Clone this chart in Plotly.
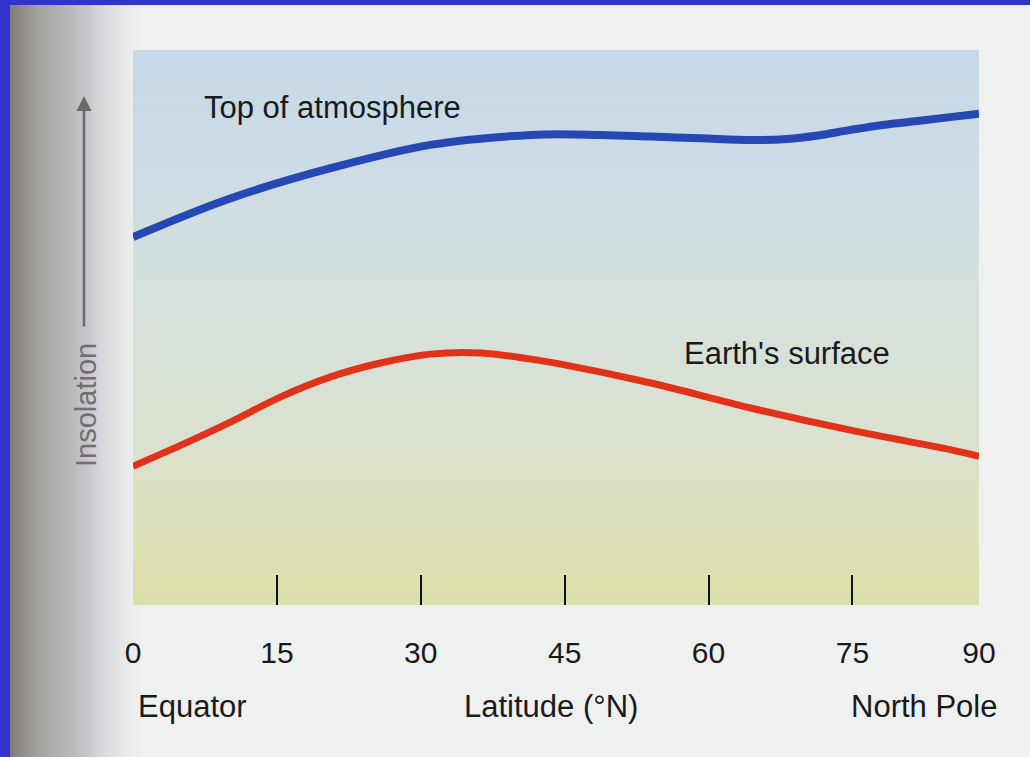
import plotly.graph_objects as go

# ---- data (latitude in degrees N, insolation in relative units 0-100) ----
lat_top = [0, 10.2, 20.6, 31.0, 41.5, 48.75, 54.0, 59.2, 64.4, 67.8, 71.4, 74.8, 78.2, 81.8, 85.2, 88.2]
ins_top = [66.3, 73.3, 78.7, 82.9, 84.7, 84.7, 84.4, 84.1, 83.8, 83.9, 84.6, 85.6, 86.5, 87.2, 87.9, 88.5]

lat_sfc = [0, 5.0, 10.2, 15.4, 20.6, 25.8, 31.0, 36.3, 41.5, 44.6, 54.0, 64.4, 74.8, 85.2, 88.2]
ins_sfc = [25.0, 28.8, 33.0, 37.5, 41.1, 43.6, 45.2, 45.4, 44.3, 43.4, 40.0, 35.5, 31.5, 28.0, 26.8]

tick_marks = [15, 30, 45, 60, 75]
tick_label_pos = [0, 15, 30, 45, 60, 75, 88.2]
tick_labels = ["0", "15", "30", "45", "60", "75", "90"]

series_names = ["Top of atmosphere", "Earth's surface"]
end_labels = ["Equator", "Latitude (°N)", "North Pole"]
y_title = "Insolation"

# ---- layout geometry ----
W, H = 1030, 757
L, R, T, B = 133, 979, 50, 605
XMAX = 88.2


def px(x):
    return (x - L) / (R - L)


def py(y):
    return (B - y) / (B - T)


def lerp_color(stops, t):
    for i in range(len(stops) - 1):
        t0, c0 = stops[i]
        t1, c1 = stops[i + 1]
        if t0 <= t <= t1:
            f = (t - t0) / (t1 - t0) if t1 > t0 else 0
            c = [round(c0[k] + (c1[k] - c0[k]) * f) for k in range(3)]
            return "rgb(%d,%d,%d)" % tuple(c)
    c = stops[-1][1]
    return "rgb(%d,%d,%d)" % tuple(c)


shapes = []

# page gradient shadow on the left (scan)
shadow_stops = [
    (10, (128, 123, 118)),
    (35, (162, 160, 156)),
    (70, (186, 184, 186)),
    (85, (198, 195, 203)),
    (100, (214, 214, 216)),
    (125, (232, 234, 234)),
    (140, (238, 240, 240)),
]
n_sh = 40
for i in range(n_sh):
    x0 = 10 + (140 - 10) * i / n_sh
    x1 = 10 + (140 - 10) * (i + 1) / n_sh
    shapes.append(dict(type="rect", xref="paper", yref="paper",
                       x0=px(x0), x1=px(x1 + 0.6), y0=py(H), y1=py(0),
                       fillcolor=lerp_color(shadow_stops, (x0 + x1) / 2),
                       line=dict(width=0), layer="below"))

# plot-area background gradient (blue at top -> yellow at bottom)
bg_stops = [
    (0.0, (221, 222, 172)),
    (0.12, (223, 225, 185)),
    (0.3, (218, 225, 208)),
    (0.55, (214, 225, 220)),
    (0.8, (204, 220, 230)),
    (1.0, (198, 216, 233)),
]
n_bg = 90
for i in range(n_bg):
    y0 = i / n_bg
    y1 = (i + 1) / n_bg
    shapes.append(dict(type="rect", xref="paper", yref="paper",
                       x0=0, x1=1, y0=y0, y1=min(1, y1 + 0.002),
                       fillcolor=lerp_color(bg_stops, (y0 + y1) / 2),
                       line=dict(width=0), layer="below"))

# blue frame of the scanned image (top and left)
shapes.append(dict(type="rect", xref="paper", yref="paper",
                   x0=px(0), x1=px(W), y0=py(5), y1=py(0),
                   fillcolor="#3232cc", line=dict(width=0), layer="above"))
shapes.append(dict(type="rect", xref="paper", yref="paper",
                   x0=px(0), x1=px(10), y0=py(H), y1=py(0),
                   fillcolor="#3232cc", line=dict(width=0), layer="above"))

fig = go.Figure()

fig.add_trace(go.Scatter(x=lat_top, y=ins_top, mode="lines", name=series_names[0],
                         line=dict(color="#2548b4", width=8, shape="spline", smoothing=1.0),
                         hoverinfo="skip", showlegend=False))
fig.add_trace(go.Scatter(x=lat_sfc, y=ins_sfc, mode="lines", name=series_names[1],
                         line=dict(color="#e2321a", width=7, shape="spline", smoothing=1.0),
                         hoverinfo="skip", showlegend=False))
# invisible trace to carry the label axis
fig.add_trace(go.Scatter(x=[0, XMAX], y=[0, 0], xaxis="x2", mode="markers",
                         marker=dict(opacity=0), hoverinfo="skip", showlegend=False))

FONT = "Liberation Sans, Arial, Helvetica, sans-serif"

annotations = [
    dict(text=series_names[0], x=7.2, y=89.6, xref="x", yref="y", xanchor="left",
         yanchor="middle", showarrow=False, font=dict(family=FONT, size=31, color="#1a1a1a")),
    dict(text=series_names[1], x=57.2, y=45.4, xref="x", yref="y", xanchor="left",
         yanchor="middle", showarrow=False, font=dict(family=FONT, size=31, color="#1a1a1a")),
    dict(text=y_title, x=px(86), y=py(405), xref="paper", yref="paper", textangle=-90,
         xanchor="center", yanchor="middle", showarrow=False,
         font=dict(family=FONT, size=29, color="#707070")),
    dict(text="", x=px(84), y=py(96), xref="paper", yref="paper", showarrow=True,
         ax=0, ay=232, arrowhead=2, arrowsize=1.2, arrowwidth=2.5, arrowcolor="#6a6a6a"),
    dict(text=end_labels[0], x=px(192), y=py(706), xref="paper", yref="paper",
         xanchor="center", yanchor="middle", showarrow=False,
         font=dict(family=FONT, size=31, color="#1a1a1a")),
    dict(text=end_labels[1], x=px(551), y=py(706), xref="paper", yref="paper",
         xanchor="center", yanchor="middle", showarrow=False,
         font=dict(family=FONT, size=31, color="#1a1a1a")),
    dict(text=end_labels[2], x=px(924), y=py(706), xref="paper", yref="paper",
         xanchor="center", yanchor="middle", showarrow=False,
         font=dict(family=FONT, size=31, color="#1a1a1a")),
]

fig.update_layout(
    width=W, height=H,
    margin=dict(l=L, r=W - R, t=T, b=H - B, pad=0),
    paper_bgcolor="rgb(239,241,240)",
    plot_bgcolor="rgba(0,0,0,0)",
    shapes=shapes,
    annotations=annotations,
    showlegend=False,
    xaxis=dict(range=[0, XMAX], tickvals=tick_marks, ticks="inside", ticklen=30,
               tickwidth=2, tickcolor="#111111", showticklabels=False,
               showgrid=False, zeroline=False, showline=False, fixedrange=True),
    xaxis2=dict(range=[0, XMAX], overlaying="x", side="bottom", anchor="y",
                tickvals=tick_label_pos, ticktext=tick_labels, ticks="",
                ticklabelstandoff=27,
                tickfont=dict(family=FONT, size=30, color="#1a1a1a"),
                showgrid=False, zeroline=False, showline=False, fixedrange=True),
    yaxis=dict(range=[0, 100], visible=False, fixedrange=True),
)

fig.write_html(
    "out.html",
    config={"displayModeBar": False},
    post_script="document.body.style.margin='0';document.body.style.overflow='hidden';",
)
